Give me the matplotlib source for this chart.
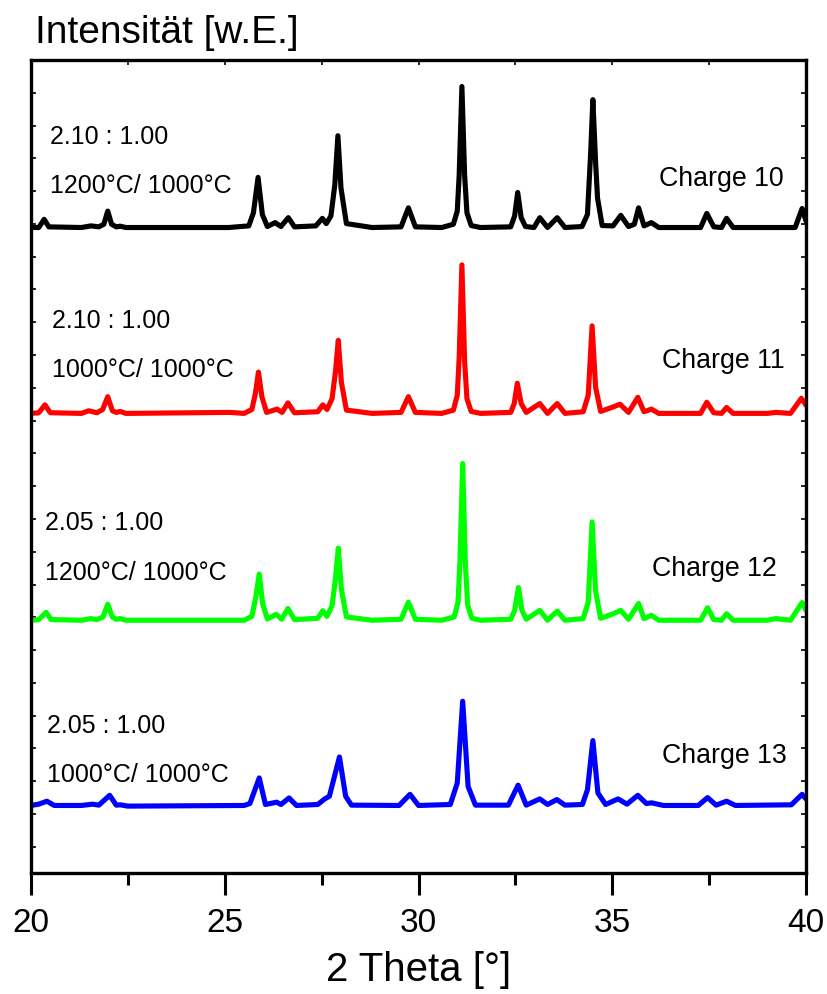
import matplotlib
matplotlib.use('Agg')
import matplotlib.pyplot as plt
import numpy as np

plt.rcParams['font.family'] = ['Liberation Sans', 'DejaVu Sans']

# --- Charge 10 (schwarz) ---
x_c10 = [20.0, 20.2, 20.34, 20.46, 21.3, 21.55, 21.75, 21.88, 21.98, 22.08, 22.2, 22.3, 22.45,
         25.1, 25.62, 25.74, 25.86, 25.97, 26.1, 26.3, 26.45, 26.64, 26.8, 27.35, 27.52, 27.62,
         27.74, 27.84, 27.92, 28.0, 28.14, 28.8, 29.55, 29.74, 29.92, 30.6, 30.9, 31.0, 31.05,
         31.12, 31.19, 31.25, 31.36, 31.6, 32.38, 32.48, 32.56, 32.65, 32.76, 32.98, 33.13, 33.33,
         33.58, 33.78, 34.22, 34.36, 34.44, 34.5, 34.57, 34.62, 34.74, 35.02, 35.22, 35.42, 35.57,
         35.68, 35.82, 36.01, 36.2, 37.28, 37.44, 37.62, 37.82, 37.95, 38.12, 39.72, 39.9, 40.0]
y_c10 = [0.0, 0.0, 0.25, 0.02, 0.0, 0.05, 0.02, 0.1, 0.5, 0.1, 0.02, 0.04, 0.0,
         0.0, 0.05, 0.45, 1.53, 0.4, 0.03, 0.15, 0.03, 0.3, 0.02, 0.05, 0.28, 0.12,
         0.35, 1.3, 2.8, 1.2, 0.12, 0.0, 0.02, 0.6, 0.02, 0.0, 0.1, 0.5, 1.6,
         4.3, 1.6, 0.45, 0.06, 0.0, 0.02, 0.35, 1.07, 0.3, 0.03, 0.0, 0.3, 0.0,
         0.3, 0.0, 0.03, 0.4, 2.2, 3.9, 2.0, 0.9, 0.06, 0.05, 0.37, 0.03, 0.1,
         0.6, 0.05, 0.15, 0.0, 0.0, 0.43, 0.02, 0.0, 0.28, 0.0, 0.0, 0.58, 0.2]

# --- Charge 11 (rot) ---
x_c11 = [20.0, 20.2, 20.36, 20.5, 21.3, 21.49, 21.7, 21.85, 21.98, 22.1, 22.2, 22.3, 22.45,
         25.14, 25.5, 25.7, 25.79, 25.87, 25.96, 26.08, 26.35, 26.48, 26.63, 26.8, 27.4, 27.53,
         27.64, 27.77, 27.86, 27.93, 28.01, 28.14, 28.8, 29.55, 29.74, 29.92, 30.6, 30.9, 31.0,
         31.05, 31.12, 31.19, 31.25, 31.36, 31.6, 32.38, 32.47, 32.55, 32.65, 32.78, 33.13, 33.33,
         33.58, 33.78, 34.25, 34.38, 34.48, 34.57, 34.7, 35.03, 35.2, 35.42, 35.66, 35.82, 36.01,
         36.2, 37.28, 37.44, 37.62, 37.82, 37.95, 38.12, 39.0, 39.22, 39.6, 39.88, 40.0]
y_c11 = [0.0, 0.02, 0.26, 0.02, 0.0, 0.08, 0.02, 0.12, 0.51, 0.08, 0.03, 0.06, 0.0,
         0.03, 0.0, 0.12, 0.6, 1.26, 0.5, 0.03, 0.13, 0.03, 0.32, 0.02, 0.05, 0.26,
         0.12, 0.45, 1.3, 2.23, 0.95, 0.1, 0.0, 0.03, 0.51, 0.03, 0.0, 0.1, 0.55,
         1.7, 4.53, 1.6, 0.45, 0.06, 0.0, 0.03, 0.3, 0.92, 0.3, 0.03, 0.3, 0.0,
         0.3, 0.0, 0.05, 0.55, 2.67, 0.8, 0.06, 0.2, 0.28, 0.03, 0.49, 0.05, 0.13,
         0.0, 0.0, 0.34, 0.02, 0.0, 0.18, 0.0, 0.0, 0.03, 0.0, 0.46, 0.25]

# --- Charge 12 (gruen) ---
x_c12 = [20.0, 20.2, 20.39, 20.52, 21.3, 21.54, 21.7, 21.86, 21.98, 22.1, 22.2, 22.3, 22.45,
         25.5, 25.7, 25.8, 25.89, 25.98, 26.1, 26.33, 26.47, 26.63, 26.8, 27.4, 27.53, 27.64,
         27.77, 27.86, 27.93, 28.01, 28.14, 28.8, 29.55, 29.74, 29.92, 30.6, 30.92, 31.02, 31.07,
         31.14, 31.21, 31.27, 31.38, 31.6, 32.38, 32.48, 32.58, 32.67, 32.78, 33.13, 33.33, 33.58,
         33.78, 34.25, 34.38, 34.48, 34.57, 34.7, 35.03, 35.22, 35.42, 35.68, 35.82, 36.01, 36.2,
         37.28, 37.46, 37.62, 37.82, 37.95, 38.12, 39.0, 39.22, 39.6, 39.9, 40.0]
y_c12 = [0.0, 0.02, 0.24, 0.02, 0.0, 0.05, 0.02, 0.1, 0.49, 0.1, 0.03, 0.05, 0.0,
         0.0, 0.12, 0.7, 1.41, 0.5, 0.04, 0.18, 0.03, 0.36, 0.02, 0.06, 0.29, 0.12,
         0.45, 1.3, 2.2, 0.95, 0.1, 0.0, 0.03, 0.55, 0.03, 0.0, 0.1, 0.55, 1.8,
         4.78, 1.7, 0.45, 0.06, 0.0, 0.03, 0.3, 1.0, 0.3, 0.03, 0.3, 0.0, 0.28,
         0.0, 0.05, 0.55, 3.0, 0.9, 0.06, 0.2, 0.3, 0.03, 0.51, 0.05, 0.15, 0.0,
         0.0, 0.38, 0.02, 0.0, 0.2, 0.0, 0.0, 0.05, 0.0, 0.54, 0.3]

# --- Charge 13 (blau) ---
x_c13 = [20.0, 20.2, 20.41, 20.6, 21.3, 21.59, 21.75, 22.03, 22.2, 22.3, 22.5,
         25.5, 25.65, 25.89, 26.05, 26.34, 26.45, 26.66, 26.85, 27.4, 27.58, 27.7, 27.96, 28.12,
         28.27, 29.5, 29.78, 30.0, 30.82, 31.0, 31.14, 31.28, 31.47, 32.32, 32.57, 32.78,
         33.13, 33.33, 33.57, 33.78, 34.23, 34.36, 34.5, 34.63, 34.83, 35.15, 35.38, 35.66,
         35.88, 36.02, 36.32, 37.22, 37.46, 37.68, 37.95, 38.18, 39.62, 39.9, 40.0]
y_c13 = [0.02, 0.06, 0.15, 0.02, 0.02, 0.06, 0.03, 0.33, 0.03, 0.04, 0.0,
         0.02, 0.08, 0.86, 0.05, 0.12, 0.05, 0.25, 0.02, 0.05, 0.22, 0.3, 1.5, 0.3,
         0.03, 0.02, 0.36, 0.02, 0.05, 0.7, 3.2, 0.6, 0.03, 0.03, 0.64, 0.03,
         0.22, 0.05, 0.2, 0.03, 0.05, 0.5, 2.0, 0.4, 0.05, 0.22, 0.06, 0.33,
         0.08, 0.1, 0.02, 0.02, 0.26, 0.03, 0.15, 0.02, 0.04, 0.36, 0.22]

xs = [x_c10, x_c11, x_c12, x_c13]
ys = [y_c10, y_c11, y_c12, y_c13]
offsets = [18.89, 13.22, 6.91, 1.24]
colors = ['black', '#ff0000', '#00ff00', '#0000ff']

charge_labels = ['Charge 10', 'Charge 11', 'Charge 12', 'Charge 13']
ratio_labels = ['2.10 : 1.00', '2.10 : 1.00', '2.05 : 1.00', '2.05 : 1.00']
temp_labels = ['1200°C/ 1000°C', '1000°C/ 1000°C', '1200°C/ 1000°C', '1000°C/ 1000°C']

# Textpositionen (Datenkoordinaten)
ratio_pos = [(20.49, 21.45), (20.54, 15.81), (20.36, 9.65), (20.41, 3.47)]
temp_pos = [(20.49, 19.93), (20.54, 14.32), (20.36, 8.13), (20.41, 1.98)]
charge_pos = [(36.21, 20.17), (36.28, 14.59), (36.03, 8.25), (36.28, 2.55)]

fig = plt.figure(figsize=(8.28, 9.94), dpi=100)
ax = fig.add_axes([31 / 828, 1 - 873 / 994, 775 / 828, 813 / 994])

for x, y, off, c in zip(xs, ys, offsets, colors):
    ax.plot(x, np.array(y) + off, color=c, lw=3.7, solid_joinstyle='round', solid_capstyle='round')

for i in range(4):
    ax.text(*ratio_pos[i], ratio_labels[i], fontsize=18, va='baseline')
    ax.text(*temp_pos[i], temp_labels[i], fontsize=18, va='baseline')
    ax.text(*charge_pos[i], charge_labels[i], fontsize=19.3, va='baseline')

ax.set_xlim(20, 40)
ax.set_ylim(-0.8, 24)
ax.set_xticks([20, 25, 30, 35, 40])
ax.set_xticks([22.5, 27.5, 32.5, 37.5], minor=True)
ax.set_yticks([])
ax.set_yticks(np.arange(0, 24), minor=True)
ax.tick_params(axis='x', which='major', direction='out', length=16, width=2.2, labelsize=24, pad=9)
ax.tick_params(axis='x', which='minor', direction='out', length=8.5, width=2.2)
ax.tick_params(axis='y', which='minor', direction='in', length=3.5, width=1.2, labelleft=False)
for s in ax.spines.values():
    s.set_linewidth(2.4)

# Ticks oben und rechts (nach innen)
top = ax.secondary_xaxis('top')
top.set_xticks(np.arange(20, 40.1, 2.5))
top.tick_params(direction='in', length=3.5, width=1.2, labeltop=False)
top.spines['top'].set_visible(False)
right = ax.secondary_yaxis('right')
right.set_yticks(np.arange(0, 24))
right.tick_params(direction='in', length=3.5, width=1.2, labelright=False)
right.spines['right'].set_visible(False)

ax.set_xlabel('2 Theta [°]', fontsize=29, labelpad=9)
fig.text(35 / 828, 1 - 43 / 994, 'Intensität [w.E.]', fontsize=28, va='baseline', ha='left')

fig.savefig('out.png', dpi=100)
